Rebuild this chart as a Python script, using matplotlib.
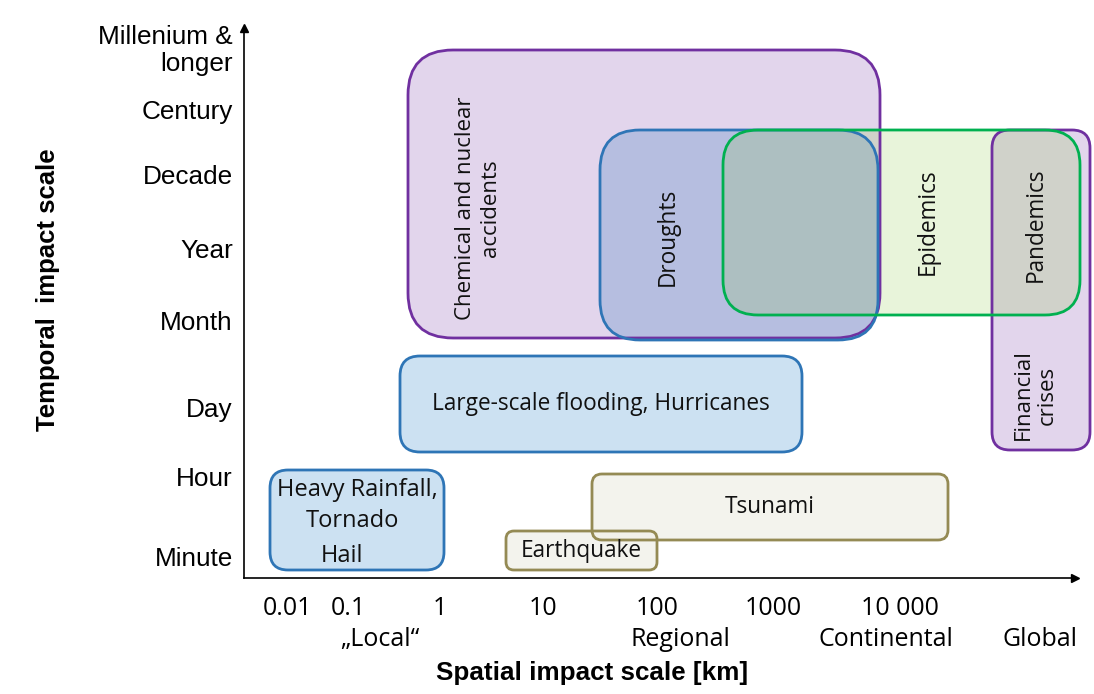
import matplotlib.pyplot as plt
from matplotlib.patches import FancyBboxPatch

# y ticks: temporal scale (axis units measured up from the x axis)
time_labels = ['Minute', 'Hour', 'Day', 'Month', 'Year', 'Decade', 'Century', 'Millenium &\nlonger']
time_pos = [22, 101, 171, 258, 330, 404, 468, 532]

# x ticks: spatial scale
space_labels = ['0.01', '0.1', '1', '10', '100', '1000', '10 000']
space_pos = [43, 104, 196, 299, 413, 529, 656]
region_labels = ['\u201eLocal\u201c', 'Regional', 'Continental', 'Global']
region_pos = [136, 436, 642, 796]

# hazard boxes: x0, x1, y0, y1 in axis units
boxes = {
    'chemical':   (164, 636, 240, 528),
    'financial':  (748, 846, 128, 448),
    'droughts':   (356, 634, 238, 448),
    'epidemics':  (479, 836, 263, 448),
    'flooding':   (156, 558, 126, 222),
    'rainfall':   (26, 200, 8, 108),
    'tsunami':    (348, 704, 38, 104),
    'earthquake': (262, 413, 8, 47),
}
face = {
    'chemical': ('#e2d5ec', 1.0), 'financial': ('#e2d5ec', 1.0),
    'droughts': ('#538cc7', 0.3), 'epidemics': ('#8cc846', 0.2),
    'flooding': ('#cce1f2', 1.0), 'rainfall': ('#cce1f2', 1.0),
    'tsunami': ('#f2f1ea', 0.85), 'earthquake': ('#f2f1ea', 0.85),
}
edge = {
    'chemical': '#7030a0', 'financial': '#7030a0', 'droughts': '#2e75b6',
    'epidemics': '#00b050', 'flooding': '#2e75b6', 'rainfall': '#2e75b6',
    'tsunami': '#948a54', 'earthquake': '#948a54',
}
radius = {'chemical': 45, 'financial': 18, 'droughts': 40, 'epidemics': 35,
          'flooding': 20, 'rainfall': 18, 'tsunami': 10, 'earthquake': 8}

# labels: text, x, y, rotation, size
labels = [
    ('Chemical and nuclear\naccidents', 234, 370, 90, 16),
    ('Droughts', 424, 341, 90, 16.3),
    ('Epidemics', 684, 356, 90, 16.3),
    ('Pandemics', 792, 353, 90, 16.3),
    ('Financial\ncrises', 791, 183, 90, 16),
    ('Large-scale flooding, Hurricanes', 357, 174, 0, 16.3),
    ('Heavy Rainfall,', 113, 88, 0, 17),
    ('Tornado', 108, 57, 0, 17),
    ('Hail', 98, 22, 0, 17),
    ('Tsunami', 526, 71, 0, 16.3),
    ('Earthquake', 337, 27, 0, 16.3),
]

fig = plt.figure(figsize=(10.94, 6.94), dpi=100)
ax = fig.add_axes([244 / 1094, 116 / 694, 831 / 1094, 550 / 694])
ax.set_xlim(0, 831)
ax.set_ylim(0, 550)

# fills first, then outlines
for k, (x0, x1, y0, y1) in boxes.items():
    c, a = face[k]
    ax.add_patch(FancyBboxPatch((x0, y0), x1 - x0, y1 - y0,
                                boxstyle=f'round,pad=0,rounding_size={radius[k]}',
                                facecolor=c, alpha=a, edgecolor='none', clip_on=False))
for k, (x0, x1, y0, y1) in boxes.items():
    ax.add_patch(FancyBboxPatch((x0, y0), x1 - x0, y1 - y0,
                                boxstyle=f'round,pad=0,rounding_size={radius[k]}',
                                facecolor='none', edgecolor=edge[k], lw=2.0, clip_on=False))

for txt, x, y, rot, fs in labels:
    ax.text(x, y, txt, rotation=rot, ha='center', va='center', fontsize=fs,
            family='Open Sans', linespacing=1.2, color='#111111')

# axes with arrows
for s in ['top', 'right']:
    ax.spines[s].set_visible(False)
for s in ['left', 'bottom']:
    ax.spines[s].set_linewidth(1.2)
ax.plot(1, 0, '>k', ms=6, transform=ax.get_yaxis_transform(), clip_on=False)
ax.plot(0, 1, '^k', ms=6, transform=ax.get_xaxis_transform(), clip_on=False)

ax.set_yticks(time_pos, time_labels, family='Liberation Sans', fontsize=18.8)
ax.tick_params(axis='y', length=0, pad=8)
ax.set_xticks(space_pos, space_labels, family='Open Sans', fontsize=18)
ax.set_xticks(region_pos, region_labels, minor=True, family='Open Sans', fontsize=18)
ax.tick_params(axis='x', which='major', length=0, pad=13)
ax.tick_params(axis='x', which='minor', length=0, pad=35)

ax.set_xlabel('Spatial impact scale [km]', family='Liberation Sans', fontweight='bold', fontsize=18.7)
ax.xaxis.set_label_coords(0.419, -0.151)
ax.set_ylabel('Temporal  impact scale', family='Liberation Sans', fontweight='bold', fontsize=18.5)
ax.yaxis.set_label_coords(-0.222, 0.524)

fig.savefig('out.png', dpi=100, facecolor='white')
